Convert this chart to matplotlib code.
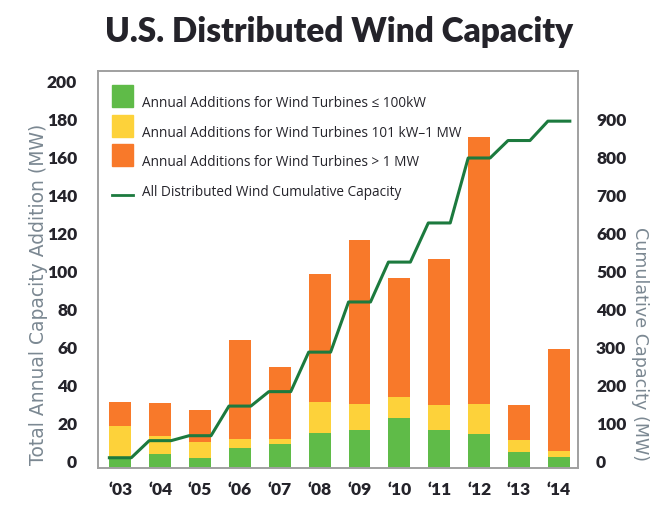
import numpy as np
import matplotlib.pyplot as plt
from matplotlib.patches import Rectangle
from matplotlib.lines import Line2D

years = ["\u201803", "\u201804", "\u201805", "\u201806", "\u201807", "\u201808",
         "\u201809", "\u201810", "\u201811", "\u201812", "\u201813", "\u201814"]
small = [5.4, 7.4, 5.1, 10.7, 12.6, 18.6, 19.8, 26.5, 19.8, 18.1, 8.6, 5.8]
mid = [16.7, 9.6, 8.4, 4.6, 2.7, 16.1, 13.9, 11.0, 13.4, 15.6, 6.1, 3.1]
large = [12.8, 17.0, 17.0, 52.2, 38.0, 67.2, 86.3, 62.5, 76.8, 140.7, 18.3, 53.9]
cumulative = [27, 72, 85, 163, 201, 305, 437, 542, 645, 816, 862, 913]
legend_labels = ["Annual Additions for Wind Turbines \u2264 100kW",
                 "Annual Additions for Wind Turbines 101 kW\u20131 MW",
                 "Annual Additions for Wind Turbines > 1 MW",
                 "All Distributed Wind Cumulative Capacity"]

green = "#5fbb48"
yellow = "#fdd23a"
orange = "#f8792a"
linecol = "#1c7a3e"
gray = "#7b8892"
dark = "#24232a"

plt.rcParams['font.family'] = ['Lato', 'DejaVu Sans']

W, H = 663, 512
fig = plt.figure(figsize=(W/100, H/100), dpi=100)
ax = fig.add_axes([98/W, 1-468/H, 480/W, 397/H])
ax2 = ax.twinx()

x = np.arange(len(years))
w = 0.55
small = np.array(small)
mid = np.array(mid)
large = np.array(large)
ax.bar(x, small, w, color=green, zorder=2)
ax.bar(x, mid, w, bottom=small, color=yellow, zorder=2)
ax.bar(x, large, w, bottom=small+mid, color=orange, zorder=2)

# cumulative line runs flat across each bar, diagonal in between
lx = np.ravel(np.column_stack([x - w/2, x + w/2]))
ly = np.repeat(cumulative, 2)
ax2.plot(lx, ly, color=linecol, lw=2.2, zorder=3)

ax.set_xlim(-0.56, 11.48)
ax.set_ylim(0, 209)
ax2.set_ylim(0, 1045)
ax.set_yticks(np.arange(0, 201, 20))
ax2.set_yticks(np.arange(0, 901, 100))
ax.set_xticks(x)
ax.set_xticklabels(years)

for a in (ax, ax2):
    a.tick_params(length=0, labelsize=12.5, colors=dark)
    for s in a.spines.values():
        s.set_color("#a0a0a0")
        s.set_linewidth(1.2)
ax.tick_params(axis='y', pad=15)
ax2.tick_params(axis='y', pad=13)
ax.tick_params(axis='x', pad=10)
for lab in ax.get_yticklabels() + ax2.get_yticklabels():
    lab.set_verticalalignment('baseline')
for lab in ax.get_xticklabels() + ax.get_yticklabels() + ax2.get_yticklabels():
    lab.set_fontweight('heavy')

fig.text(39/W, 1-465/H, "Total Annual Capacity Addition (MW)", rotation=90,
         ha='center', va='bottom', color=gray, fontsize=13.5, family='DejaVu Sans')
fig.text(640/W, 1-461/H, "Cumulative Capacity (MW)", rotation=270,
         ha='center', va='bottom', color=gray, fontsize=12.6, family='DejaVu Sans')

fig.text(339/W, 1-42/H, "U.S. Distributed Wind Capacity", ha='center', va='baseline',
         fontsize=24, fontweight='heavy', color=dark)

# legend drawn by hand so the spacing matches
baselines = [107, 137, 166, 196]
for i, col in enumerate([green, yellow, orange]):
    fig.add_artist(Rectangle((112/W, 1-(baselines[i])/H), 21/W, 22/H,
                             transform=fig.transFigure, color=col))
fig.add_artist(Line2D([112/W, 133/W], [1-195/H, 1-195/H], transform=fig.transFigure,
                      color=linecol, lw=2))
for b, t in zip(baselines, legend_labels):
    fig.text(142/W, 1-b/H, t, ha='left', va='baseline', color=dark,
             fontsize=9.8, family='Open Sans')

fig.savefig("out.png", dpi=100)
